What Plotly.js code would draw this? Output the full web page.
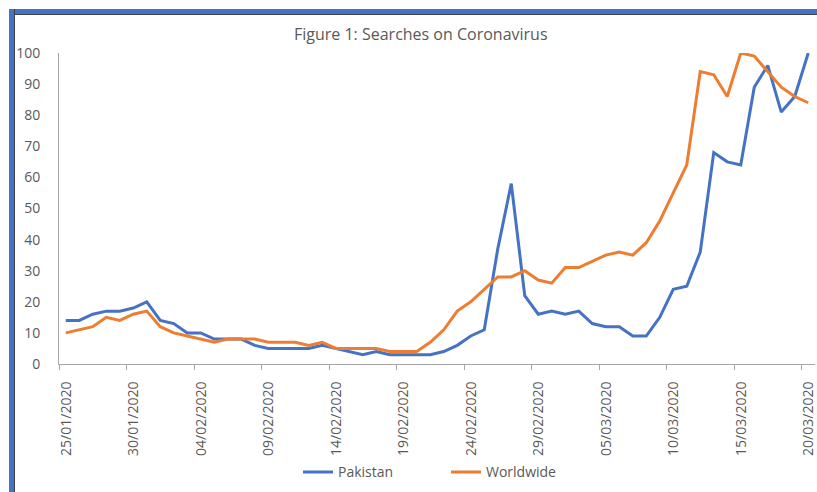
<!DOCTYPE html>
<html>
<head>
<meta charset="utf-8">
<script src="https://cdn.plot.ly/plotly-3.0.1.min.js"></script>
<style>
  html, body { margin: 0; padding: 0; background: #ffffff; overflow: hidden; }
  #wrap { position: relative; width: 817px; height: 492px; overflow: hidden; }
  #chart { position: absolute; left: 0; top: 0; width: 817px; height: 492px; }
  /* blue frame bars along the top and left edges, each with a thin dark inner edge */
  .bar { position: absolute; background: #4472C4; pointer-events: none; }
  #barTop  { left: 9px; top: 9px; width: 808px; height: 5px; border-bottom: 1px solid #404040; }
  #barLeft { left: 9px; top: 9px; width: 5px; height: 483px; border-right: 1px solid #404040; }
</style>
</head>
<body>
<div id="wrap">
  <div id="chart"></div>
  <div id="barTop" class="bar"></div>
  <div id="barLeft" class="bar"></div>
</div>
<script>
// Daily dates, 25 Jan 2020 to 20 Mar 2020
const dates = [
  '2020-01-25','2020-01-26','2020-01-27','2020-01-28','2020-01-29','2020-01-30','2020-01-31',
  '2020-02-01','2020-02-02','2020-02-03','2020-02-04','2020-02-05','2020-02-06','2020-02-07',
  '2020-02-08','2020-02-09','2020-02-10','2020-02-11','2020-02-12','2020-02-13','2020-02-14',
  '2020-02-15','2020-02-16','2020-02-17','2020-02-18','2020-02-19','2020-02-20','2020-02-21',
  '2020-02-22','2020-02-23','2020-02-24','2020-02-25','2020-02-26','2020-02-27','2020-02-28',
  '2020-02-29','2020-03-01','2020-03-02','2020-03-03','2020-03-04','2020-03-05','2020-03-06',
  '2020-03-07','2020-03-08','2020-03-09','2020-03-10','2020-03-11','2020-03-12','2020-03-13',
  '2020-03-14','2020-03-15','2020-03-16','2020-03-17','2020-03-18','2020-03-19','2020-03-20'
];

// Relative search interest (0-100)
const pakistan = [
  14,14,16,17,17,18,20,14,13,10,10,8,8,8,6,
  5,5,5,5,6,5,4,3,4,3,3,3,3,
  4,6,9,11,37,58,22,16,17,16,17,13,12,12,9,9,15,24,25,36,68,65,64,89,96,81,86,100
];
const worldwide = [
  10,11,12,15,14,16,17,12,10,9,8,7,8,8,8,
  7,7,7,6,7,5,5,5,5,4,4,4,7,
  11,17,20,24,28,28,30,27,26,31,31,33,35,36,35,39,46,55,64,94,93,86,100,99,94,89,86,84
];

const seriesNames = ['Pakistan', 'Worldwide'];
const yTicks = [0, 10, 20, 30, 40, 50, 60, 70, 80, 90, 100];
const xRange = ['2020-01-25', '2020-03-21'];
const titleText = 'Figure 1: Searches on Coronavirus';

const DAY = 86400000;
const FONT = '"Open Sans", "Noto Sans", sans-serif';
const GREY = '#595959';

const traces = [
  { x: dates, y: pakistan, name: seriesNames[0], type: 'scatter', mode: 'lines',
    xperiod: DAY, xperiodalignment: 'middle',
    line: { color: '#4472C4', width: 3 } },
  { x: dates, y: worldwide, name: seriesNames[1], type: 'scatter', mode: 'lines',
    xperiod: DAY, xperiodalignment: 'middle',
    line: { color: '#ED7D31', width: 3 } }
];

const layout = {
  width: 817, height: 492,
  margin: { l: 59, r: 2, t: 53, b: 128 },
  paper_bgcolor: '#ffffff', plot_bgcolor: '#ffffff',
  font: { family: FONT, color: GREY, size: 14 },
  title: { text: titleText, font: { family: FONT, size: 16, color: GREY },
           xref: 'container', x: 0.515, xanchor: 'center',
           yref: 'container', y: 0.931, yanchor: 'middle' },
  xaxis: {
    type: 'date', range: xRange, tick0: xRange[0], dtick: 5 * DAY,
    tickformat: '%d/%m/%Y', tickangle: -90,
    ticks: 'outside', ticklen: 5, tickcolor: '#A6A6A6', tickwidth: 1,
    ticklabelshift: 7, ticklabelstandoff: 6, ticklabeloverflow: 'allow',
    showline: true, linecolor: '#A6A6A6', linewidth: 1,
    showgrid: false, zeroline: false, fixedrange: true,
    tickfont: { family: FONT, size: 14, color: GREY }
  },
  yaxis: {
    range: [0, 100], tickvals: yTicks, ticks: '',
    ticklabelstandoff: 15,
    showline: true, linecolor: '#A6A6A6', linewidth: 1,
    showgrid: false, zeroline: false, fixedrange: true,
    tickfont: { family: FONT, size: 14, color: GREY }
  },
  showlegend: true,
  legend: {
    orientation: 'h', xref: 'container', yref: 'container',
    x: 298 / 817, xanchor: 'left', y: 0.04, yanchor: 'middle',
    font: { family: FONT, size: 14, color: GREY },
    itemwidth: 30, entrywidth: 103, entrywidthmode: 'pixels',
    bgcolor: 'rgba(0,0,0,0)'
  }
};

Plotly.newPlot('chart', traces, layout, { displayModeBar: false, staticPlot: true });
</script>
</body>
</html>
